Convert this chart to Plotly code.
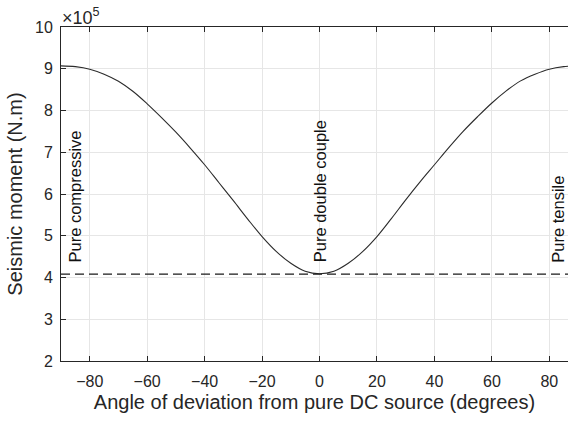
import plotly.graph_objects as go

# Data (moment in units of 1e5 N.m)
angle = [-90, -85, -80, -75, -70, -65, -60, -55, -50, -45, -40, -35, -30, -25, -20, -15, -10, -5, 0,
         5, 10, 15, 20, 25, 30, 35, 40, 45, 50, 55, 60, 65, 70, 75, 80, 85, 90]
moment = [9.07, 9.05, 8.99, 8.87, 8.70, 8.46, 8.16, 7.83, 7.48, 7.10, 6.70, 6.27, 5.84, 5.40, 4.98,
          4.62, 4.34, 4.15, 4.09,
          4.15, 4.34, 4.62, 4.98, 5.41, 5.86, 6.29, 6.70, 7.11, 7.50, 7.85, 8.18, 8.47, 8.71, 8.87, 8.99, 9.05, 9.07]
dc_x = [-90, 90]
dc_level = [4.08, 4.08]
xticks = [-80, -60, -40, -20, 0, 20, 40, 60, 80]
yticks = [2, 3, 4, 5, 6, 7, 8, 9, 10]
labels = [("Pure compressive", -85.2), ("Pure double couple", 0.0), ("Pure tensile", 83.2)]

FONT = "Liberation Sans, Arial, Helvetica, sans-serif"
AX = "#262626"

fig = go.Figure()
fig.add_trace(go.Scatter(x=angle, y=moment, mode="lines",
                         line=dict(color="#2b2b2b", width=1.1, shape="spline", smoothing=1.0),
                         showlegend=False, hoverinfo="skip"))
fig.add_trace(go.Scatter(x=dc_x, y=dc_level, mode="lines",
                         line=dict(color="#1a1a1a", width=1.1, dash="9px,5px"),
                         showlegend=False, hoverinfo="skip"))

for txt, xv in labels:
    fig.add_annotation(x=xv, y=4.33, xref="x", yref="y", text=txt, textangle=-90,
                       showarrow=False, xanchor="center", yanchor="bottom", borderpad=0,
                       font=dict(family=FONT, size=16.5, color="#111111"))

fig.add_annotation(x=0.0, y=1.0, xref="paper", yref="paper", text="×10<sup>5</sup>",
                   showarrow=False, xanchor="left", yanchor="bottom", yshift=-3, xshift=-1,
                   font=dict(family=FONT, size=18, color=AX))

fig.update_layout(
    width=568, height=422,
    margin=dict(l=61, r=0, t=27, b=61),
    paper_bgcolor="white", plot_bgcolor="white",
    font=dict(family=FONT, size=16, color=AX),
    xaxis=dict(range=[-90, 86.5], tickvals=xticks, ticks="inside", ticklen=5, tickcolor=AX,
               showline=True, linecolor=AX, linewidth=1, mirror="ticks",
               showgrid=True, gridcolor="#e6e6e6", gridwidth=1, zeroline=False,
               tickfont=dict(size=16, color=AX), ticklabelstandoff=6,
               title=dict(text="Angle of deviation from pure DC source (degrees)",
                          font=dict(size=20, color=AX), standoff=5)),
    yaxis=dict(range=[2, 10], tickvals=yticks, ticks="inside", ticklen=5, tickcolor=AX,
               showline=True, linecolor=AX, linewidth=1, mirror=False,
               showgrid=True, gridcolor="#e6e6e6", gridwidth=1, zeroline=False,
               tickfont=dict(size=16, color=AX), ticklabelstandoff=4,
               title=dict(text="Seismic moment (N.m)", font=dict(size=20, color=AX), standoff=7)),
)

fig.write_html("out.html")
